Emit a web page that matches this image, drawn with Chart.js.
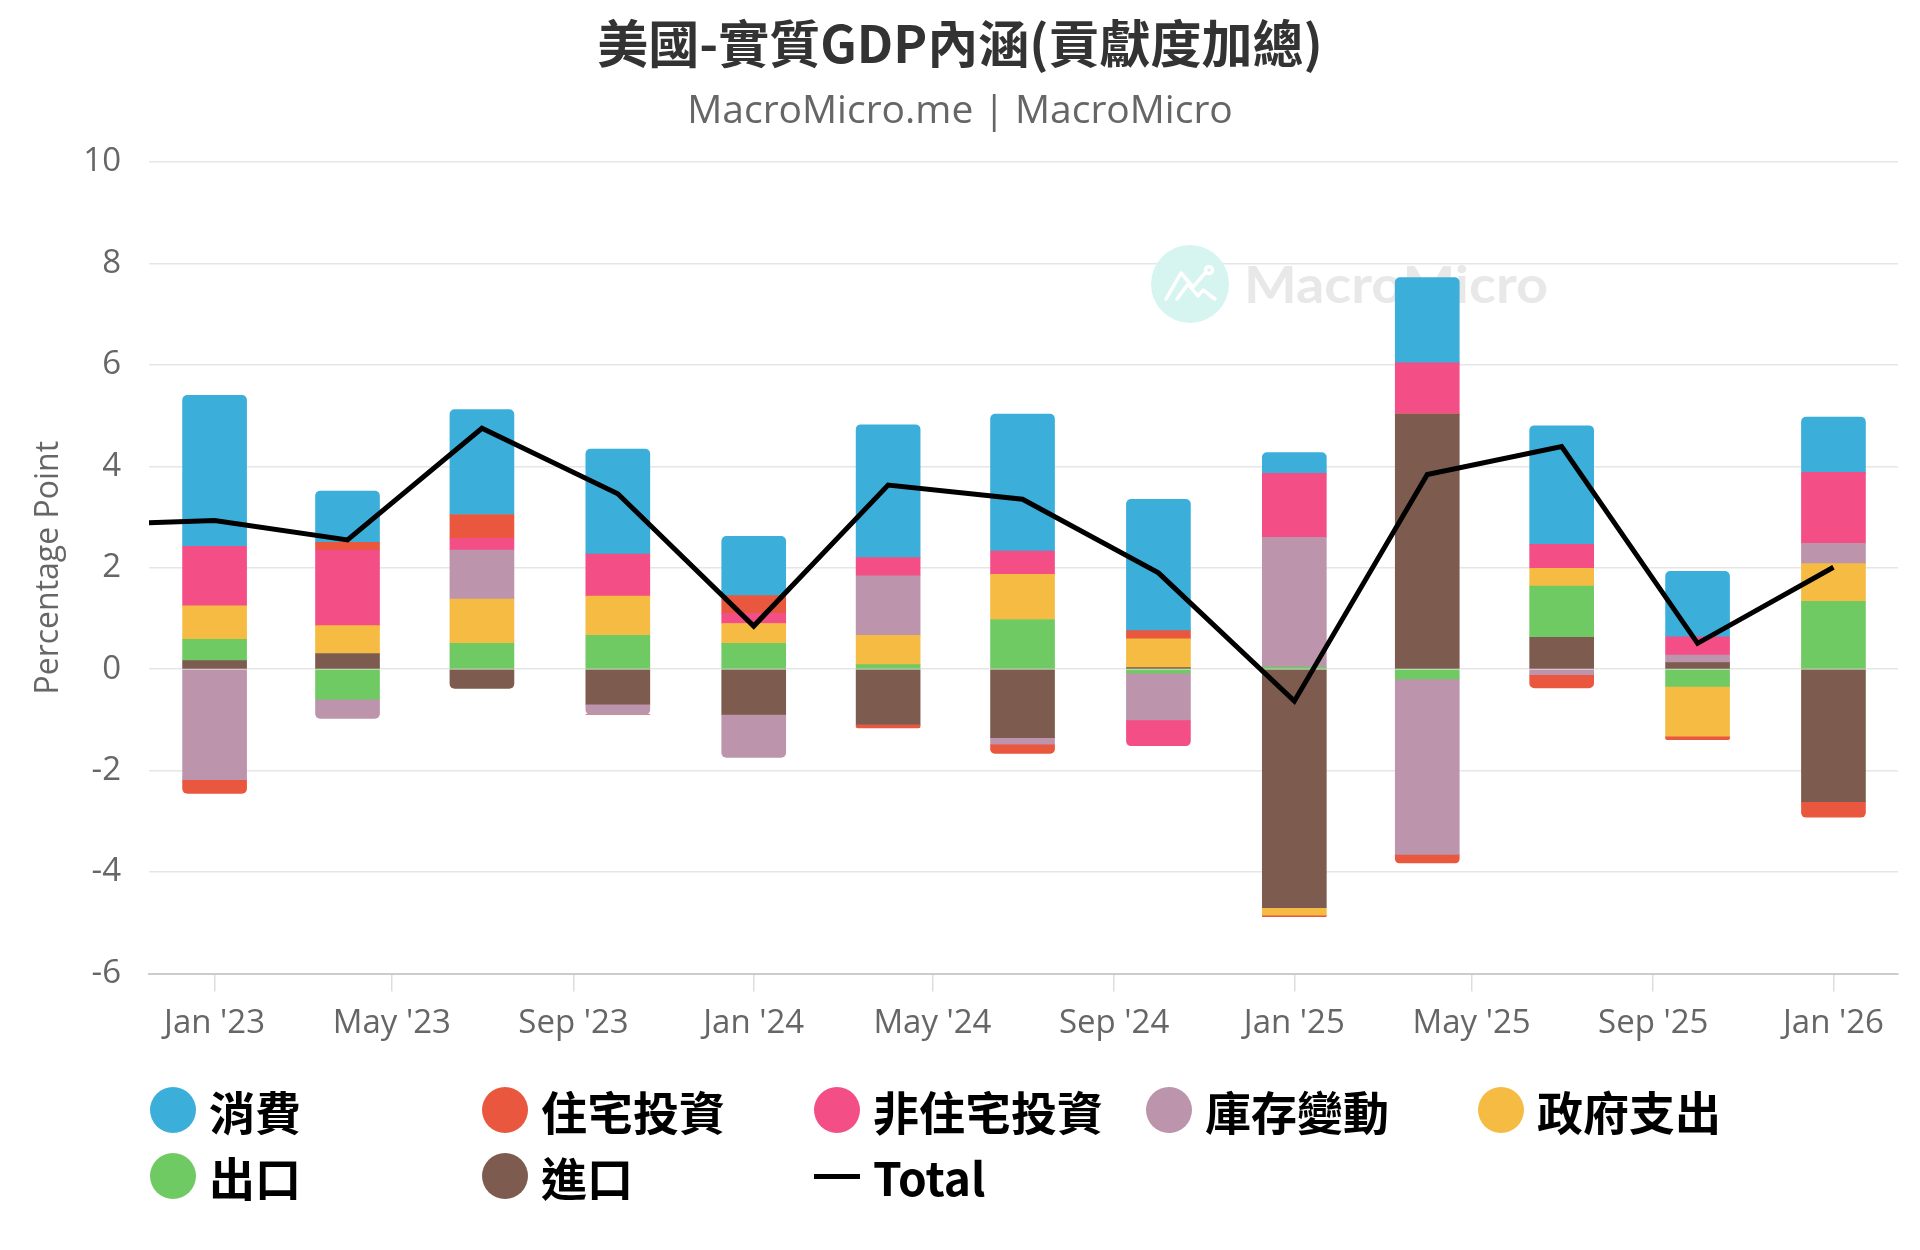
<!DOCTYPE html>
<html>
<head>
<meta charset="utf-8">
<script src="https://cdn.jsdelivr.net/npm/chart.js@4.4.1/dist/chart.umd.min.js"></script>
<style>
html,body{margin:0;padding:0;background:#fff;}
#wrap{position:relative;width:1920px;height:1250px;overflow:hidden;}
#c{position:absolute;left:0;top:0;}
#legend{position:absolute;left:150px;top:1077px;width:1720px;font-family:"Noto Sans CJK TC","Noto Sans",sans-serif;font-weight:700;font-size:46px;color:#000;line-height:1;}
.row{display:flex;height:66px;align-items:center;}
.item{width:332px;display:flex;align-items:center;flex:none;}
.dot{width:46px;height:46px;border-radius:50%;margin-right:13px;flex:none;}
.ln{width:46px;height:5px;background:#000;margin-right:13px;flex:none;}
</style>
</head>
<body>
<div id="wrap"><canvas id="c" width="1920" height="1250"></canvas><div id="legend"></div></div>
<script>
// ---------- data ----------
const barDates   = ['2023-01-01','2023-04-01','2023-07-01','2023-10-01','2024-01-01','2024-04-01','2024-07-01','2024-10-01','2025-01-01','2025-04-01','2025-07-01','2025-10-01','2026-01-01'];
const totalDates = ['2022-10-01','2023-01-01','2023-04-01','2023-07-01','2023-10-01','2024-01-01','2024-04-01','2024-07-01','2024-10-01','2025-01-01','2025-04-01','2025-07-01','2025-10-01','2026-01-01'];

const consumption   = [2.98, 1.01, 2.07, 2.07, 1.17, 2.62, 2.70, 2.59, 0.41, 1.68, 2.34, 1.29, 1.09];
const residential   = [-0.27, 0.15, 0.47, 0.00, 0.35, -0.07, -0.18, 0.16, -0.03, -0.17, -0.26, -0.07, -0.31];
const nonResidential= [1.17, 1.49, 0.23, 0.83, 0.20, 0.36, 0.46, -0.51, 1.26, 1.01, 0.47, 0.36, 1.40];
const inventories   = [-2.18, -0.38, 0.97, -0.20, -0.85, 1.17, -0.13, -0.92, 2.56, -3.46, -0.11, 0.15, 0.40];
const government    = [0.66, 0.55, 0.87, 0.77, 0.39, 0.58, 0.89, 0.57, -0.15, 0.00, 0.35, -0.98, 0.74];
const exportsArr    = [0.42, -0.59, 0.51, 0.67, 0.51, 0.09, 0.98, -0.08, 0.04, -0.19, 1.01, -0.34, 1.34];
const importsArr    = [0.17, 0.31, -0.38, -0.69, -0.89, -1.09, -1.35, 0.03, -4.70, 5.03, 0.63, 0.13, -2.61];
const total         = [2.84, 2.93, 2.55, 4.75, 3.46, 0.85, 3.63, 3.35, 1.90, -0.63, 3.84, 4.39, 0.51, 2.01];

const tickDates  = ['2023-01-01','2023-05-01','2023-09-01','2024-01-01','2024-05-01','2024-09-01','2025-01-01','2025-05-01','2025-09-01','2026-01-01'];
const tickLabels = ["Jan '23","May '23","Sep '23","Jan '24","May '24","Sep '24","Jan '25","May '25","Sep '25","Jan '26"];
const yTicks = [-6, -4, -2, 0, 2, 4, 6, 8, 10];

const seriesNames  = ['消費','住宅投資','非住宅投資','庫存變動','政府支出','出口','進口'];
const seriesColors = ['#3BAEDA','#E9573F','#F44E87','#BC94AC','#F6BB42','#6FCA63','#7D5B4F'];
const seriesValues = [consumption, residential, nonResidential, inventories, government, exportsArr, importsArr];
const totalName = 'Total';

// ---------- helpers ----------
const DAY0 = Date.UTC(2023, 0, 1);
const toDay = s => (Date.parse(s + 'T00:00:00Z') - DAY0) / 86400000;
const barX = barDates.map(toDay);
const totalX = totalDates.map(toDay);
const tickX = tickDates.map(toDay);

const FONT = '"Open Sans","Noto Sans",sans-serif';
const CJK = '"Noto Sans CJK TC","Noto Sans",sans-serif';

const datasets = seriesValues.map((vals, i) => ({
  type: 'bar',
  label: seriesNames[i],
  data: vals.map((v, j) => ({x: barX[j], y: v})),
  backgroundColor: seriesColors[i],
  borderWidth: 0,
  borderRadius: 5,
  barThickness: 64,
  stack: 'gdp',
  order: seriesValues.length - i   // 進口 at the bottom, 消費 on top
}));
datasets.push({
  type: 'line',
  label: totalName,
  data: total.map((v, j) => ({x: totalX[j], y: v})),
  borderColor: '#000',
  borderWidth: 5,
  pointRadius: 0,
  tension: 0,
  fill: false,
  stack: 'total',
  order: 0,
  clip: 0
});

const watermark = {
  id: 'watermark',
  beforeDatasetsDraw(chart) {
    const ctx = chart.ctx;
    ctx.save();
    ctx.fillStyle = '#d6f5f0';
    ctx.beginPath(); ctx.arc(1190, 284, 39, 0, Math.PI * 2); ctx.fill();
    ctx.strokeStyle = '#ffffff'; ctx.lineWidth = 3.5; ctx.lineCap = 'round'; ctx.lineJoin = 'round';
    ctx.beginPath(); ctx.moveTo(1166, 299); ctx.lineTo(1181, 273); ctx.lineTo(1193, 287); ctx.lineTo(1206, 272); ctx.stroke();
    ctx.beginPath(); ctx.moveTo(1177, 299); ctx.lineTo(1188, 284); ctx.lineTo(1198, 296); ctx.lineTo(1203, 290); ctx.lineTo(1215, 299); ctx.stroke();
    ctx.beginPath(); ctx.arc(1209, 270, 3.5, 0, Math.PI * 2); ctx.stroke();
    ctx.fillStyle = '#e8e8e8';
    ctx.font = 'bold 51px Lato, "Open Sans", sans-serif';
    ctx.textBaseline = 'alphabetic';
    const w = ctx.measureText('MacroMicro').width;
    ctx.translate(1244, 303);
    ctx.scale(304 / w, 1);
    ctx.fillText('MacroMicro', 0, 0);
    ctx.restore();
  }
};

new Chart(document.getElementById('c'), {
  data: {datasets},
  plugins: [watermark],
  options: {
    responsive: false,
    animation: false,
    devicePixelRatio: 1,
    layout: {padding: {left: 0, right: 0, top: 0, bottom: 190}},
    plugins: {
      legend: {display: false},
      tooltip: {enabled: false},
      title: {
        display: true, text: '美國-實質GDP內涵(貢獻度加總)', color: '#333',
        font: {family: CJK, size: 51, weight: 'bold', lineHeight: 1.2},
        padding: {top: 13, bottom: 0}
      },
      subtitle: {
        display: true, text: 'MacroMicro.me | MacroMicro', color: '#666',
        font: {family: FONT, size: 39, lineHeight: 1.2},
        padding: {top: 14, bottom: 27}
      }
    },
    scales: {
      x: {
        type: 'linear', min: -44.4, max: 1139.7, stacked: true, offset: false,
        afterBuildTicks: s => { s.ticks = tickX.map(v => ({value: v})); },
        ticks: {
          autoSkip: false, maxRotation: 0, minRotation: 0, color: '#666',
          font: {family: FONT, size: 33}, padding: 12,
          callback: v => { const k = tickX.indexOf(v); return k >= 0 ? tickLabels[k] : ''; }
        },
        grid: {offset: false, drawOnChartArea: false, drawTicks: true, tickLength: 18, color: '#dddddd', lineWidth: 1.5},
        border: {display: true, color: '#cccccc', width: 2},
        afterFit: s => { s.height = 86.5; }
      },
      y: {
        stacked: true, min: -6, max: 10,
        afterBuildTicks: s => { s.ticks = yTicks.map(v => ({value: v})); },
        ticks: {color: '#666', font: {family: FONT, size: 33}, padding: 28},
        grid: {color: '#e6e6e6', lineWidth: 1.5, drawTicks: false},
        border: {display: false},
        title: {display: true, text: 'Percentage Point', color: '#666', font: {family: FONT, size: 32, lineHeight: 1.2}, padding: {top: 30, bottom: 0}},
        afterFit: s => { s.width = 149; }
      },
      yRight: {
        position: 'right', display: true, min: -6, max: 10,
        grid: {display: false, drawTicks: false},
        ticks: {display: false},
        border: {display: false},
        afterFit: s => { s.width = 22; }
      }
    }
  }
});

// ---------- HTML legend ----------
const legend = document.getElementById('legend');
const items = seriesNames.map((n, i) => `<div class="item"><span class="dot" style="background:${seriesColors[i]}"></span><span>${n}</span></div>`);
items.push(`<div class="item"><span class="ln"></span><span>${totalName}</span></div>`);
legend.innerHTML = `<div class="row">${items.slice(0, 5).join('')}</div><div class="row">${items.slice(5).join('')}</div>`;
</script>
</body>
</html>
